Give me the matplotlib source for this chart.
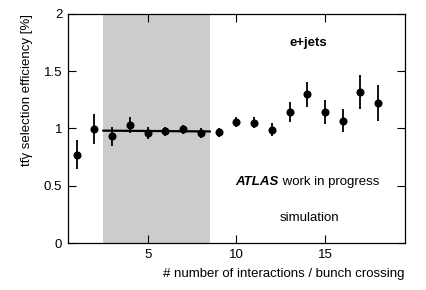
import matplotlib
matplotlib.use("Agg")
import matplotlib.pyplot as plt
import numpy as np

plt.rcParams['font.family'] = ['Liberation Sans', 'DejaVu Sans']

n_interactions = [1, 2, 3, 4, 5, 6, 7, 8, 9, 10, 11, 12, 13, 14, 15, 16, 17, 18]
efficiency = [0.77, 0.995, 0.93, 1.03, 0.96, 0.975, 0.993, 0.96, 0.965, 1.057,
              1.05, 0.99, 1.143, 1.30, 1.146, 1.066, 1.317, 1.22]
eff_err = [0.128, 0.13, 0.086, 0.07, 0.05, 0.04, 0.04, 0.04, 0.04, 0.044,
           0.05, 0.058, 0.087, 0.11, 0.105, 0.10, 0.15, 0.157]
band_range = [2.5, 8.5]
fit_x = [2.5, 8.5]
fit_y = [0.981, 0.974]

FS = 9.5
fig = plt.figure(figsize=(4.27, 2.90), dpi=100)
ax = fig.add_axes([0.159, 0.162, 0.789, 0.790])

ax.axvspan(band_range[0], band_range[1], color='#cccccc', lw=0, zorder=0)
ax.plot(fit_x, fit_y, color='black', lw=1.6, zorder=2)
ax.errorbar(n_interactions, efficiency, yerr=eff_err, fmt='o', color='black',
            ms=4.8, elinewidth=1.3, capsize=0, zorder=3)

ax.set_xlim(0.5, 19.5)
ax.set_ylim(0, 2)
ax.set_xticks([5, 10, 15])
ax.set_yticks([0, 0.5, 1, 1.5, 2])
ax.set_yticklabels(['0', '0.5', '1', '1.5', '2'])
ax.tick_params(direction='in', top=True, right=True, length=6, width=0.8,
               labelsize=FS, pad=4)
for s in ax.spines.values():
    s.set_linewidth(0.9)

ax.set_xlabel('# number of interactions / bunch crossing', fontsize=FS, loc='right', labelpad=5)
ax.set_ylabel('tt\u0304\u03b3 selection efficiency [%]', fontsize=FS,
              loc='top', labelpad=8)

ax.text(0.715, 0.873, 'e+jets', transform=ax.transAxes, fontsize=FS,
        fontweight='bold', ha='center', va='center')
t1 = ax.text(0.498, 0.268, 'ATLAS', transform=ax.transAxes, fontsize=FS,
             fontweight='bold', fontstyle='italic', ha='left', va='center')
ax.annotate(' work in progress', xy=(1, 0.5), xycoords=t1, fontsize=FS,
            ha='left', va='center')
ax.text(0.716, 0.108, 'simulation', transform=ax.transAxes, fontsize=FS,
        ha='center', va='center')

fig.savefig('out.png', dpi=100)
